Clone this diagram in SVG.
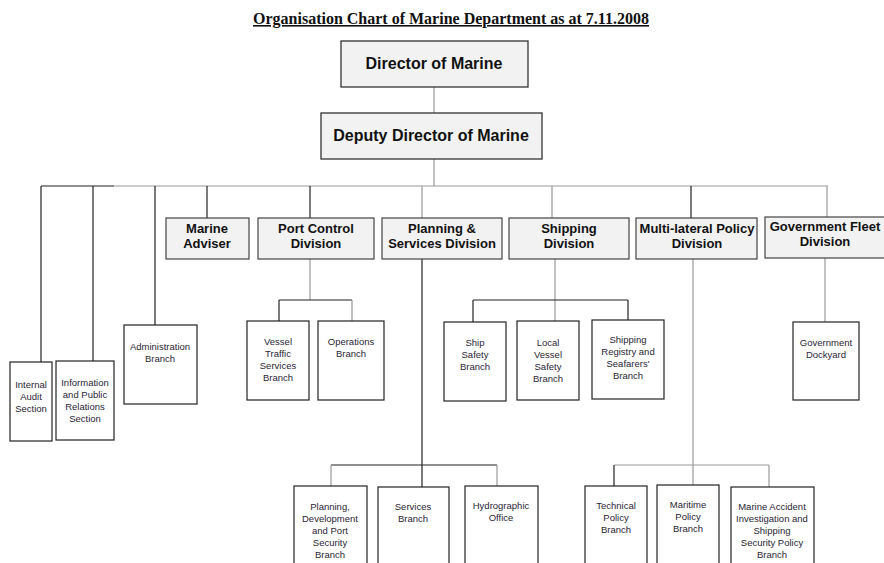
<svg xmlns="http://www.w3.org/2000/svg" width="884" height="563" viewBox="0 0 884 563">
<style>
.bg{fill:#ffffff}
.top{fill:#f2f2f2;stroke:#333;stroke-width:1.3}
.div{fill:#f2f2f2;stroke:#444;stroke-width:1.2}
.sub{fill:#ffffff;stroke:#222;stroke-width:1.2}
.t1{font-family:"Liberation Sans",Arial,sans-serif;font-weight:bold;font-size:16px;fill:#111;text-anchor:middle}
.t2{font-family:"Liberation Sans",Arial,sans-serif;font-weight:bold;font-size:13px;fill:#111;text-anchor:middle}
.t3{font-family:"Liberation Sans",Arial,sans-serif;font-size:9.5px;fill:#2a2535;text-anchor:middle}
.title{font-family:"Liberation Serif","Times New Roman",serif;font-weight:bold;font-size:16px;fill:#111;text-anchor:middle;text-decoration:underline}
.ln{stroke:#222;stroke-width:1.2;fill:none}
.lg{stroke:#999;stroke-width:1.2;fill:none}
</style>
<rect class="bg" x="0" y="0" width="884" height="563"/>
<text class="title" x="451" y="24">Organisation Chart of Marine Department as at 7.11.2008</text>

<g id="connectors">
  <line class="lg" x1="434" y1="87" x2="434" y2="113"/>
  <line class="lg" x1="434" y1="159" x2="434" y2="186"/>
  <line class="ln" x1="41" y1="186" x2="114" y2="186"/>
  <line class="lg" x1="114" y1="186" x2="828" y2="186"/>
  <line class="ln" x1="41" y1="186" x2="41" y2="362"/>
  <line class="ln" x1="93" y1="186" x2="93" y2="361"/>
  <line class="ln" x1="155" y1="186" x2="155" y2="325"/>
  <line class="ln" x1="207" y1="186" x2="207" y2="218"/>
  <line class="ln" x1="310" y1="186" x2="310" y2="218"/>
  <line class="lg" x1="422" y1="186" x2="422" y2="218"/>
  <line class="lg" x1="552" y1="186" x2="552" y2="218"/>
  <line class="ln" x1="691" y1="186" x2="691" y2="218"/>
  <line class="lg" x1="827" y1="186" x2="827" y2="217"/>
  <!-- Port Control -->
  <line class="lg" x1="310" y1="259" x2="310" y2="300"/>
  <line class="ln" x1="279" y1="300" x2="352" y2="300"/>
  <line class="ln" x1="279" y1="300" x2="279" y2="321"/>
  <line class="lg" x1="352" y1="300" x2="352" y2="321"/>
  <!-- Planning -->
  <line class="ln" x1="422" y1="259" x2="422" y2="487"/>
  <line class="ln" x1="331" y1="465" x2="497" y2="465"/>
  <line class="lg" x1="331" y1="465" x2="331" y2="486"/>
  <line class="lg" x1="497" y1="465" x2="497" y2="486"/>
  <!-- Shipping -->
  <line class="lg" x1="555" y1="259" x2="555" y2="321"/>
  <line class="ln" x1="473" y1="300" x2="628" y2="300"/>
  <line class="ln" x1="473" y1="300" x2="473" y2="322"/>
  <line class="ln" x1="628" y1="300" x2="628" y2="320"/>
  <!-- Multi-lateral -->
  <line class="lg" x1="693" y1="259" x2="693" y2="485"/>
  <line class="lg" x1="614" y1="465" x2="769" y2="465"/>
  <line class="ln" x1="614" y1="465" x2="614" y2="486"/>
  <line class="lg" x1="769" y1="465" x2="769" y2="487"/>
  <!-- Gov Fleet -->
  <line class="lg" x1="825" y1="258" x2="825" y2="322"/>
</g>

<g id="director"><rect class="top" x="341" y="41" width="187" height="46"/><text class="t1" x="434" y="69">Director of Marine</text></g>
<g id="deputy"><rect class="top" x="321" y="113" width="221" height="46"/><text class="t1" x="431" y="141">Deputy Director of Marine</text></g>

<g id="marine-adviser"><rect class="div" x="166" y="218" width="83" height="41"/><text class="t2" x="207" y="233">Marine</text><text class="t2" x="207" y="248">Adviser</text></g>
<g id="port-control"><rect class="div" x="258" y="218" width="116" height="41"/><text class="t2" x="316" y="233">Port Control</text><text class="t2" x="316" y="248">Division</text></g>
<g id="planning"><rect class="div" x="382" y="218" width="120" height="41"/><text class="t2" x="442" y="233">Planning &amp;</text><text class="t2" x="442" y="248">Services Division</text></g>
<g id="shipping"><rect class="div" x="509" y="218" width="120" height="41"/><text class="t2" x="569" y="233">Shipping</text><text class="t2" x="569" y="248">Division</text></g>
<g id="multilateral"><rect class="div" x="636" y="218" width="121" height="41"/><text class="t2" x="697" y="233">Multi-lateral Policy</text><text class="t2" x="697" y="248">Division</text></g>
<g id="gov-fleet"><rect class="div" x="765" y="217" width="120" height="41"/><text class="t2" x="825" y="231">Government Fleet</text><text class="t2" x="825" y="246">Division</text></g>

<g id="internal-audit"><rect class="sub" x="10" y="362" width="42" height="79"/><text class="t3" x="31" y="388">Internal</text><text class="t3" x="31" y="400">Audit</text><text class="t3" x="31" y="412">Section</text></g>
<g id="info-pr"><rect class="sub" x="56" y="361" width="58" height="79"/><text class="t3" x="85" y="386">Information</text><text class="t3" x="85" y="398">and Public</text><text class="t3" x="85" y="410">Relations</text><text class="t3" x="85" y="422">Section</text></g>
<g id="admin"><rect class="sub" x="124" y="325" width="73" height="79"/><text class="t3" x="160" y="350">Administration</text><text class="t3" x="160" y="362">Branch</text></g>
<g id="vessel-traffic"><rect class="sub" x="247" y="321" width="62" height="79"/><text class="t3" x="278" y="345">Vessel</text><text class="t3" x="278" y="357">Traffic</text><text class="t3" x="278" y="369">Services</text><text class="t3" x="278" y="381">Branch</text></g>
<g id="operations"><rect class="sub" x="318" y="321" width="66" height="79"/><text class="t3" x="351" y="345">Operations</text><text class="t3" x="351" y="357">Branch</text></g>
<g id="ship-safety"><rect class="sub" x="444" y="322" width="62" height="79"/><text class="t3" x="475" y="346">Ship</text><text class="t3" x="475" y="358">Safety</text><text class="t3" x="475" y="370">Branch</text></g>
<g id="local-vessel"><rect class="sub" x="517" y="321" width="62" height="79"/><text class="t3" x="548" y="346">Local</text><text class="t3" x="548" y="358">Vessel</text><text class="t3" x="548" y="370">Safety</text><text class="t3" x="548" y="382">Branch</text></g>
<g id="registry"><rect class="sub" x="592" y="320" width="72" height="79"/><text class="t3" x="628" y="343">Shipping</text><text class="t3" x="628" y="355">Registry and</text><text class="t3" x="628" y="367">Seafarers'</text><text class="t3" x="628" y="379">Branch</text></g>
<g id="dockyard"><rect class="sub" x="793" y="322" width="66" height="78"/><text class="t3" x="826" y="346">Government</text><text class="t3" x="826" y="358">Dockyard</text></g>

<g id="planning-dev"><rect class="sub" x="294" y="486" width="73" height="90"/><text class="t3" x="330" y="510">Planning,</text><text class="t3" x="330" y="522">Development</text><text class="t3" x="330" y="534">and Port</text><text class="t3" x="330" y="546">Security</text><text class="t3" x="330" y="558">Branch</text></g>
<g id="services"><rect class="sub" x="378" y="487" width="71" height="90"/><text class="t3" x="413" y="510">Services</text><text class="t3" x="413" y="522">Branch</text></g>
<g id="hydrographic"><rect class="sub" x="465" y="486" width="73" height="90"/><text class="t3" x="501" y="509">Hydrographic</text><text class="t3" x="501" y="521">Office</text></g>
<g id="technical"><rect class="sub" x="585" y="486" width="62" height="90"/><text class="t3" x="616" y="509">Technical</text><text class="t3" x="616" y="521">Policy</text><text class="t3" x="616" y="533">Branch</text></g>
<g id="maritime"><rect class="sub" x="657" y="485" width="62" height="90"/><text class="t3" x="688" y="508">Maritime</text><text class="t3" x="688" y="520">Policy</text><text class="t3" x="688" y="532">Branch</text></g>
<g id="marine-accident"><rect class="sub" x="731" y="487" width="83" height="90"/><text class="t3" x="772" y="510">Marine Accident</text><text class="t3" x="772" y="522">Investigation and</text><text class="t3" x="772" y="534">Shipping</text><text class="t3" x="772" y="546">Security Policy</text><text class="t3" x="772" y="558">Branch</text></g>
</svg>
